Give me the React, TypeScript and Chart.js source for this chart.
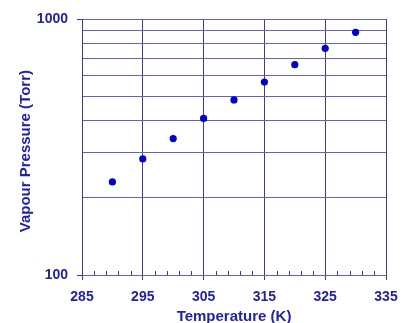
import React, { useEffect, useRef } from 'react';
import { Chart, registerables } from 'chart.js';

Chart.register(...registerables);

const temperatures = [290, 295, 300, 305, 310, 315, 320, 325, 330];
const pressures = [231, 284, 341, 409, 483, 567, 663, 768, 887];
const xTickValues = [285, 295, 305, 315, 325, 335];
const xMinorTickValues = [287, 289, 291, 293, 297, 299, 301, 303, 307, 309, 311, 313, 317, 319, 321, 323, 327, 329, 331, 333];
const yTickValues = [100, 200, 300, 400, 500, 600, 700, 800, 900, 1000];
const yLabelValues = [100, 1000];

const textColor = '#2222a8';
const vLineColor = '#3a3aa0';
const hLineColor = '#6262c4';
const pointColor = '#0000d0';
const fontFamily = '"Liberation Sans", Arial, sans-serif';

const minorTicksPlugin = {
  id: 'minorTicks',
  beforeDatasetsDraw(chart: any) {
    const { ctx, scales } = chart;
    const x = scales.x;
    const yb = chart.chartArea.bottom;
    ctx.save();
    ctx.strokeStyle = vLineColor;
    ctx.lineWidth = 1;
    ctx.beginPath();
    xMinorTickValues.forEach((v) => {
      const px = Math.round(x.getPixelForValue(v)) + 0.5;
      ctx.moveTo(px, yb);
      ctx.lineTo(px, yb - 4);
    });
    ctx.stroke();
    ctx.restore();
  },
};

export default function App() {
  const ref = useRef<HTMLCanvasElement | null>(null);
  useEffect(() => {
    document.body.style.margin = '0';
    const chart = new Chart(ref.current as HTMLCanvasElement, {
      type: 'scatter',
      data: {
        datasets: [
          {
            data: temperatures.map((t, i) => ({ x: t, y: pressures[i] })),
            backgroundColor: pointColor,
            borderColor: pointColor,
            pointRadius: 3.6,
            pointHoverRadius: 3.6,
            borderWidth: 0,
          },
        ],
      },
      options: {
        animation: false,
        responsive: true,
        maintainAspectRatio: false,
        layout: { padding: { left: 0, top: 19, right: 24, bottom: 0 } },
        plugins: { legend: { display: false }, tooltip: { enabled: false } },
        scales: {
          x: {
            type: 'linear',
            min: 285,
            max: 335,
            afterBuildTicks: (scale: any) => {
              scale.ticks = xTickValues.map((v) => ({ value: v }));
            },
            afterFit: (scale: any) => {
              scale.height = 48;
            },
            grid: { color: vLineColor, lineWidth: 1, tickLength: 5, tickColor: vLineColor },
            border: { color: hLineColor, width: 1 },
            ticks: {
              color: textColor,
              font: { family: fontFamily, size: 14, weight: 'bold' },
              padding: 9,
              maxRotation: 0,
              autoSkip: false,
              callback: (v: any) => String(v),
            },
            title: {
              display: true,
              text: 'Temperature (K)',
              color: textColor,
              font: { family: fontFamily, size: 15, weight: 'bold', lineHeight: 1 },
              padding: { top: 0, bottom: -1.5 },
            },
          },
          y: {
            type: 'logarithmic',
            min: 100,
            max: 1000,
            afterBuildTicks: (scale: any) => {
              scale.ticks = yTickValues.map((v) => ({ value: v }));
            },
            afterFit: (scale: any) => {
              scale.width = 82;
            },
            grid: {
              color: hLineColor,
              lineWidth: 1,
              tickLength: 5,
              tickColor: (c: any) => (yLabelValues.includes(c.tick?.value) ? vLineColor : 'rgba(0,0,0,0)'),
            },
            border: { color: vLineColor, width: 1 },
            ticks: {
              color: textColor,
              font: { family: fontFamily, size: 14, weight: 'bold' },
              padding: 9,
              autoSkip: false,
              callback: (v: any) => (yLabelValues.includes(Number(v)) ? String(v) : ''),
            },
            title: {
              display: true,
              text: 'Vapour Pressure (Torr)  ',
              color: textColor,
              font: { family: fontFamily, size: 15, weight: 'bold', lineHeight: 1 },
              padding: { top: 18.5, bottom: 0 },
            },
          },
        },
      },
      plugins: [minorTicksPlugin],
    } as any);
    return () => chart.destroy();
  }, []);
  return (
    <div style={{ position: 'relative', width: 410, height: 323 }}>
      <canvas ref={ref} />
    </div>
  );
}
